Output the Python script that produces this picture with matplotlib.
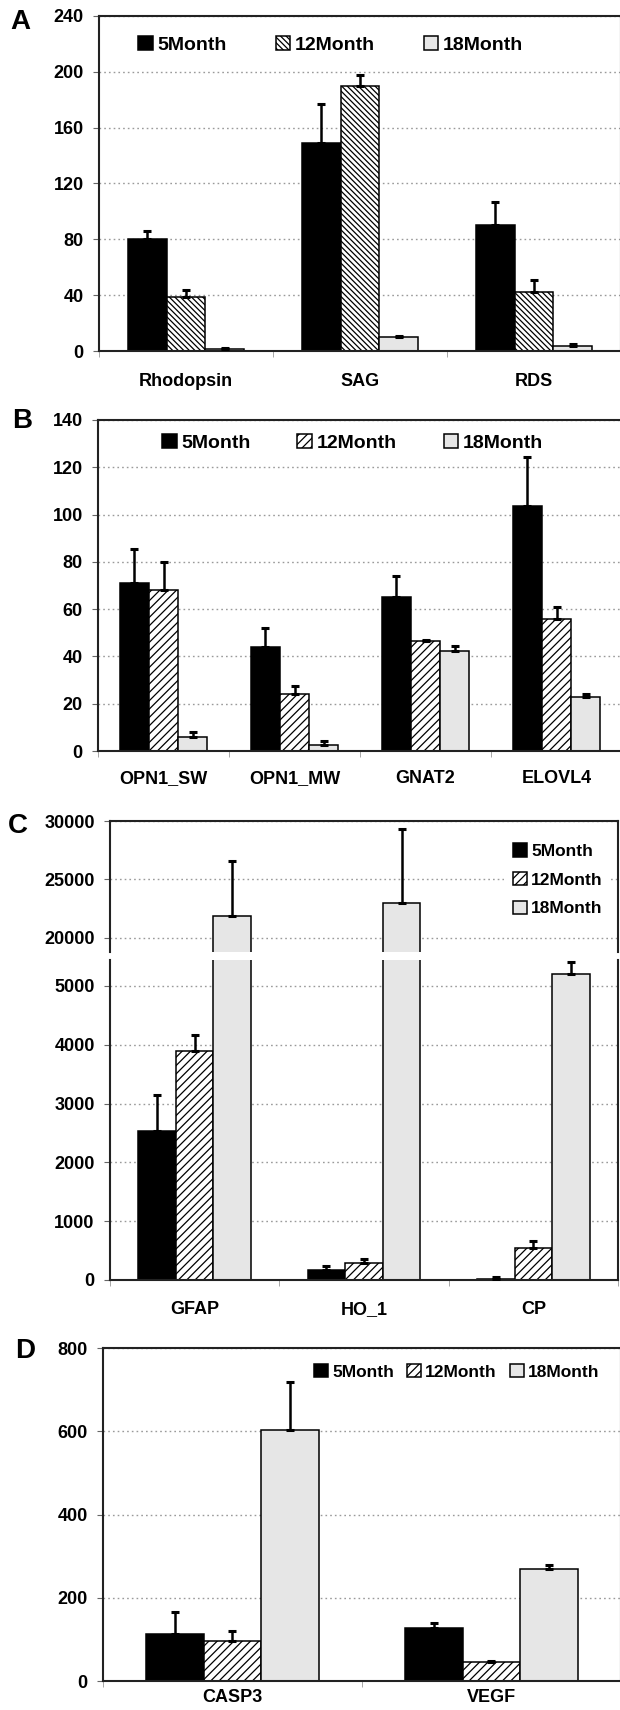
import matplotlib
matplotlib.use('Agg')
import matplotlib.pyplot as plt
import numpy as np

plt.rcParams['font.family'] = ['Liberation Sans', 'DejaVu Sans']
plt.rcParams['font.weight'] = 'bold'
plt.rcParams['hatch.linewidth'] = 0.9

series = ['5Month', '12Month', '18Month']

# Panel A
A_cats = ['Rhodopsin', 'SAG', 'RDS']
A_m5 = [80, 149, 90]
A_m5_err = [6, 28, 17]
A_m12 = [38.5, 190, 42]
A_m12_err = [5, 8, 9]
A_m18 = [1.5, 10, 3.5]
A_m18_err = [0.5, 1, 1.5]
A_yticks = [0, 40, 80, 120, 160, 200, 240]

# Panel B
B_cats = ['OPN1_SW', 'OPN1_MW', 'GNAT2', 'ELOVL4']
B_m5 = [71, 44, 65, 103.5]
B_m5_err = [14.5, 8, 9, 21]
B_m12 = [68, 24, 46.5, 56]
B_m12_err = [12, 3.5, 0.4, 4.7]
B_m18 = [6, 2.5, 42.5, 23]
B_m18_err = [2, 1.7, 1.8, 1]
B_yticks = [0, 20, 40, 60, 80, 100, 120, 140]

# Panel C (broken axis)
C_cats = ['GFAP', 'HO_1', 'CP']
C_m5 = [2530, 170, 25]
C_m5_err = [610, 70, 20]
C_m12 = [3890, 295, 540]
C_m12_err = [270, 60, 120]
C_m18 = [21850, 23000, 5200]
C_m18_err = [4750, 6350, 200]
C_upper_ticks = [20000, 25000, 30000]
C_lower_ticks = [0, 1000, 2000, 3000, 4000, 5000]

# Panel D
D_cats = ['CASP3', 'VEGF']
D_m5 = [113, 127]
D_m5_err = [52, 13]
D_m12 = [95, 45]
D_m12_err = [24, 3]
D_m18 = [602, 268]
D_m18_err = [116, 11]
D_yticks = [0, 200, 400, 600, 800]

W, H = 620, 1710
fig = plt.figure(figsize=(6.2, 17.1), dpi=100)


def axrect(l, t, r, b):
    return fig.add_axes([l / W, 1 - b / H, (r - l) / W, (b - t) / H])


BW = 0.222


def draw_bars(ax, vals, errs, hatch12):
    n = len(vals[0])
    x = np.arange(n)
    styles = [dict(facecolor='black', edgecolor='black'),
              dict(facecolor='white', edgecolor='black', hatch=hatch12),
              dict(facecolor='#e6e6e6', edgecolor='black')]
    handles = []
    for i, (v, e, st, lab) in enumerate(zip(vals, errs, styles, series)):
        xs = x + (i - 1) * BW
        b = ax.bar(xs, v, BW, label=lab, linewidth=1.1, zorder=2, **st)
        handles.append(b)
        ax.errorbar(xs, v, yerr=[np.zeros(n), e], fmt='none', ecolor='black',
                    elinewidth=1.8, capsize=3, capthick=2.2, zorder=3)
    return handles


def style_ax(ax, cats, yticks, ylim, pad):
    n = len(cats)
    ax.set_xlim(-0.5, n - 0.5)
    ax.set_ylim(*ylim)
    ax.set_yticks(yticks)
    ax.yaxis.grid(True, linestyle=(0, (1.2, 2.2)), color='#9a9a9a', linewidth=1)
    ax.set_axisbelow(True)
    ax.set_xticks(np.arange(n))
    ax.set_xticklabels(cats, fontsize=13, fontweight='bold')
    ax.set_xticks(np.arange(n + 1) - 0.5, minor=True)
    ax.tick_params(axis='x', which='major', length=0, pad=pad)
    ax.tick_params(axis='x', which='minor', length=4, color='#999999')
    ax.tick_params(axis='y', length=4, color='#666666', labelsize=13, pad=7)
    for s in ax.spines.values():
        s.set_linewidth(1.5)
        s.set_color('#222222')


# ---- A ----
axA = axrect(99, 16, 621, 351)
hA = draw_bars(axA, [A_m5, A_m12, A_m18], [A_m5_err, A_m12_err, A_m18_err], '\\\\\\\\\\\\')
style_ax(axA, A_cats, A_yticks, (0, 240), 16)
axA.legend(handles=hA, ncol=3, loc='center left', bbox_to_anchor=(0.075, 0.913),
           frameon=False, fontsize=14, handlelength=0.75, handleheight=0.75,
           handletextpad=0.25, columnspacing=2.5, borderpad=0, borderaxespad=0)

# ---- B ----
axB = axrect(98, 420, 622, 751)
hB = draw_bars(axB, [B_m5, B_m12, B_m18], [B_m5_err, B_m12_err, B_m18_err], '////')
style_ax(axB, B_cats, B_yticks, (0, 140), 14)
axB.legend(handles=hB, ncol=3, loc='center left', bbox_to_anchor=(0.122, 0.930),
           frameon=False, fontsize=14, handlelength=0.75, handleheight=0.75,
           handletextpad=0.25, columnspacing=2.4, borderpad=0, borderaxespad=0)

# ---- C ----
axCu = axrect(110, 821, 618, 952)
axCl = axrect(110, 960, 618, 1280)
vals_C = [C_m5, C_m12, C_m18]
errs_C = [C_m5_err, C_m12_err, C_m18_err]
hC = draw_bars(axCu, vals_C, errs_C, '////')
draw_bars(axCl, vals_C, errs_C, '////')
style_ax(axCu, C_cats, C_upper_ticks, (18800, 30000), 14)
style_ax(axCl, C_cats, C_lower_ticks, (0, 5440), 15)
axCu.spines['bottom'].set_visible(False)
axCu.tick_params(axis='x', which='both', bottom=False, labelbottom=False)
axCl.spines['top'].set_visible(False)
legC = axCu.legend(handles=hC, ncol=1, loc='center left', bbox_to_anchor=(0.776, 0.55),
                   frameon=True, fontsize=12.5, handlelength=0.8, handleheight=0.8,
                   handletextpad=0.25, labelspacing=0.75, borderpad=0.5, borderaxespad=0)
legC.get_frame().set_edgecolor('none')
legC.get_frame().set_facecolor('white')
legC.get_frame().set_alpha(1)

# ---- D ----
axD = axrect(103, 1348, 621, 1681)
hD = draw_bars(axD, [D_m5, D_m12, D_m18], [D_m5_err, D_m12_err, D_m18_err], '////')
style_ax(axD, D_cats, D_yticks, (0, 800), 6)
axD.legend(handles=hD, ncol=3, loc='center left', bbox_to_anchor=(0.407, 0.928),
           frameon=False, fontsize=12.5, handlelength=0.8, handleheight=0.8,
           handletextpad=0.25, columnspacing=0.75, borderpad=0, borderaxespad=0)

# panel letters
for lab, x, y in [('A', 10, 22), ('B', 12, 421), ('C', 8, 826), ('D', 15, 1351)]:
    fig.text(x / W, 1 - y / H, lab, fontsize=20, fontweight='bold', ha='left', va='center')

fig.savefig('out.png', dpi=100)
